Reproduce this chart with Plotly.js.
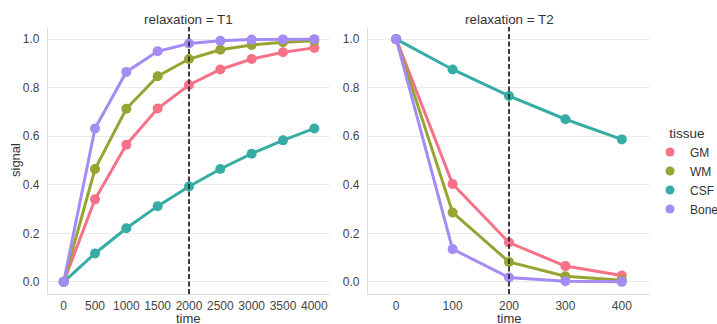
<!DOCTYPE html>
<html>
<head>
<meta charset="utf-8">
<script src="https://cdn.plot.ly/plotly-3.0.1.min.js"></script>
<style>html,body{margin:0;padding:0;background:#fff;}#chart{width:717px;height:324px;}</style>
</head>
<body>
<div id="chart"></div>
<script>
// ---- data ----
const tissues = ['GM', 'WM', 'CSF', 'Bone'];
const colors = ['#f77189', '#97a431', '#36ada4', '#a48cf4'];

const t1Times = ['0', '500', '1000', '1500', '2000', '2500', '3000', '3500', '4000'];
const t1GM   = [0, 0.340, 0.565, 0.714, 0.811, 0.875, 0.918, 0.946, 0.964];
const t1WM   = [0, 0.465, 0.713, 0.847, 0.918, 0.956, 0.976, 0.987, 0.993];
const t1CSF  = [0, 0.117, 0.221, 0.312, 0.393, 0.465, 0.528, 0.583, 0.632];
const t1Bone = [0, 0.632, 0.865, 0.950, 0.982, 0.993, 0.998, 0.999, 1.000];

const t2Times = ['0', '100', '200', '300', '400'];
const t2GM   = [1, 0.403, 0.162, 0.065, 0.026];
const t2WM   = [1, 0.286, 0.082, 0.023, 0.007];
const t2CSF  = [1, 0.875, 0.766, 0.670, 0.587];
const t2Bone = [1, 0.135, 0.018, 0.003, 0.000];

const t1Marker = '2000';
const t2Marker = '200';
const yTicks = [0, 0.2, 0.4, 0.6, 0.8, 1.0];
const yRange = [-0.05, 1.05];

// ---- build ----
const W = 717, H = 324;
const t1Series = [t1GM, t1WM, t1CSF, t1Bone];
const t2Series = [t2GM, t2WM, t2CSF, t2Bone];
const traces = [];
tissues.forEach((name, i) => {
  traces.push({x: t1Times, y: t1Series[i], xaxis: 'x', yaxis: 'y', type: 'scatter', mode: 'lines+markers',
    line: {color: colors[i], width: 3}, marker: {color: colors[i], size: 10}, name: name, showlegend: false, cliponaxis: false});
  traces.push({x: t2Times, y: t2Series[i], xaxis: 'x2', yaxis: 'y2', type: 'scatter', mode: 'lines+markers',
    line: {color: colors[i], width: 3}, marker: {color: colors[i], size: 10}, name: name, showlegend: false, cliponaxis: false});
});
// legend entries (markers only)
tissues.forEach((name, i) => {
  traces.push({x: [null], y: [null], xaxis: 'x2', yaxis: 'y2', type: 'scatter', mode: 'markers',
    marker: {color: colors[i], size: 9}, name: name, showlegend: true});
});
// dashed reference lines
traces.push({x: [t1Marker, t1Marker], y: yRange, xaxis: 'x', yaxis: 'y', mode: 'lines',
  line: {color: '#2b2b2b', width: 1.8, dash: '5px,2.5px'}, showlegend: false, hoverinfo: 'skip'});
traces.push({x: [t2Marker, t2Marker], y: yRange, xaxis: 'x2', yaxis: 'y2', mode: 'lines',
  line: {color: '#2b2b2b', width: 1.8, dash: '5px,2.5px'}, showlegend: false, hoverinfo: 'skip'});

const FONT = 'Liberation Sans, Arial, sans-serif';
const yDom = [1 - 294 / H, 1 - 27 / H];
const x1Dom = [48 / W, 330 / W];
const x2Dom = [368 / W, 650 / W];

const xCommon = {type: 'category', showgrid: false, zeroline: false, showline: true, linecolor: '#dcdcdc', linewidth: 1.2,
  ticks: '', tickfont: {family: FONT, size: 12, color: '#444'}, ticklabelstandoff: 0, fixedrange: true};
const yCommon = {range: yRange, tickvals: yTicks, tickformat: '.1f', showgrid: true, gridcolor: '#ebebeb', gridwidth: 1,
  zeroline: false, showline: true, linecolor: '#dcdcdc', linewidth: 1.2, ticks: '',
  tickfont: {family: FONT, size: 12, color: '#444'}, ticklabelstandoff: 5, fixedrange: true};

const layout = {
  width: W, height: H,
  margin: {l: 0, r: 0, t: 0, b: 0, autoexpand: false},
  paper_bgcolor: '#fff', plot_bgcolor: '#fff',
  font: {family: FONT, color: '#333'},
  xaxis: Object.assign({}, xCommon, {domain: x1Dom, anchor: 'y', range: [-0.5, t1Times.length - 0.5]}),
  yaxis: Object.assign({}, yCommon, {domain: yDom, anchor: 'x'}),
  xaxis2: Object.assign({}, xCommon, {domain: x2Dom, anchor: 'y2', range: [-0.5, t2Times.length - 0.5]}),
  yaxis2: Object.assign({}, yCommon, {domain: yDom, anchor: 'x2'}),
  showlegend: true,
  legend: {x: 650 / W, xanchor: 'left', y: 1 - 120 / H, yanchor: 'top', bgcolor: 'rgba(0,0,0,0)',
    font: {family: FONT, size: 12, color: '#333'},
    title: {text: 'tissue', side: 'top center', font: {family: FONT, size: 13.5, color: '#333'}}},
  annotations: [
    {text: 'relaxation = T1', xref: 'paper', yref: 'paper', x: (x1Dom[0] + x1Dom[1]) / 2, y: 1 - 19 / H,
      xanchor: 'center', yanchor: 'middle', showarrow: false, font: {family: FONT, size: 13.4, color: '#333'}},
    {text: 'relaxation = T2', xref: 'paper', yref: 'paper', x: (x2Dom[0] + x2Dom[1]) / 2, y: 1 - 19 / H,
      xanchor: 'center', yanchor: 'middle', showarrow: false, font: {family: FONT, size: 13.4, color: '#333'}},
    {text: 'time', xref: 'paper', yref: 'paper', x: (x1Dom[0] + x1Dom[1]) / 2, y: 1 - 318.5 / H,
      xanchor: 'center', yanchor: 'middle', showarrow: false, font: {family: FONT, size: 13, color: '#333'}},
    {text: 'time', xref: 'paper', yref: 'paper', x: (x2Dom[0] + x2Dom[1]) / 2, y: 1 - 318.5 / H,
      xanchor: 'center', yanchor: 'middle', showarrow: false, font: {family: FONT, size: 13, color: '#333'}},
    {text: 'signal', xref: 'paper', yref: 'paper', x: 15 / W, y: 1 - 160 / H, textangle: -90,
      xanchor: 'center', yanchor: 'middle', showarrow: false, font: {family: FONT, size: 13, color: '#333'}}
  ]
};

Plotly.newPlot('chart', traces, layout, {staticPlot: true, displayModeBar: false});
</script>
</body>
</html>
